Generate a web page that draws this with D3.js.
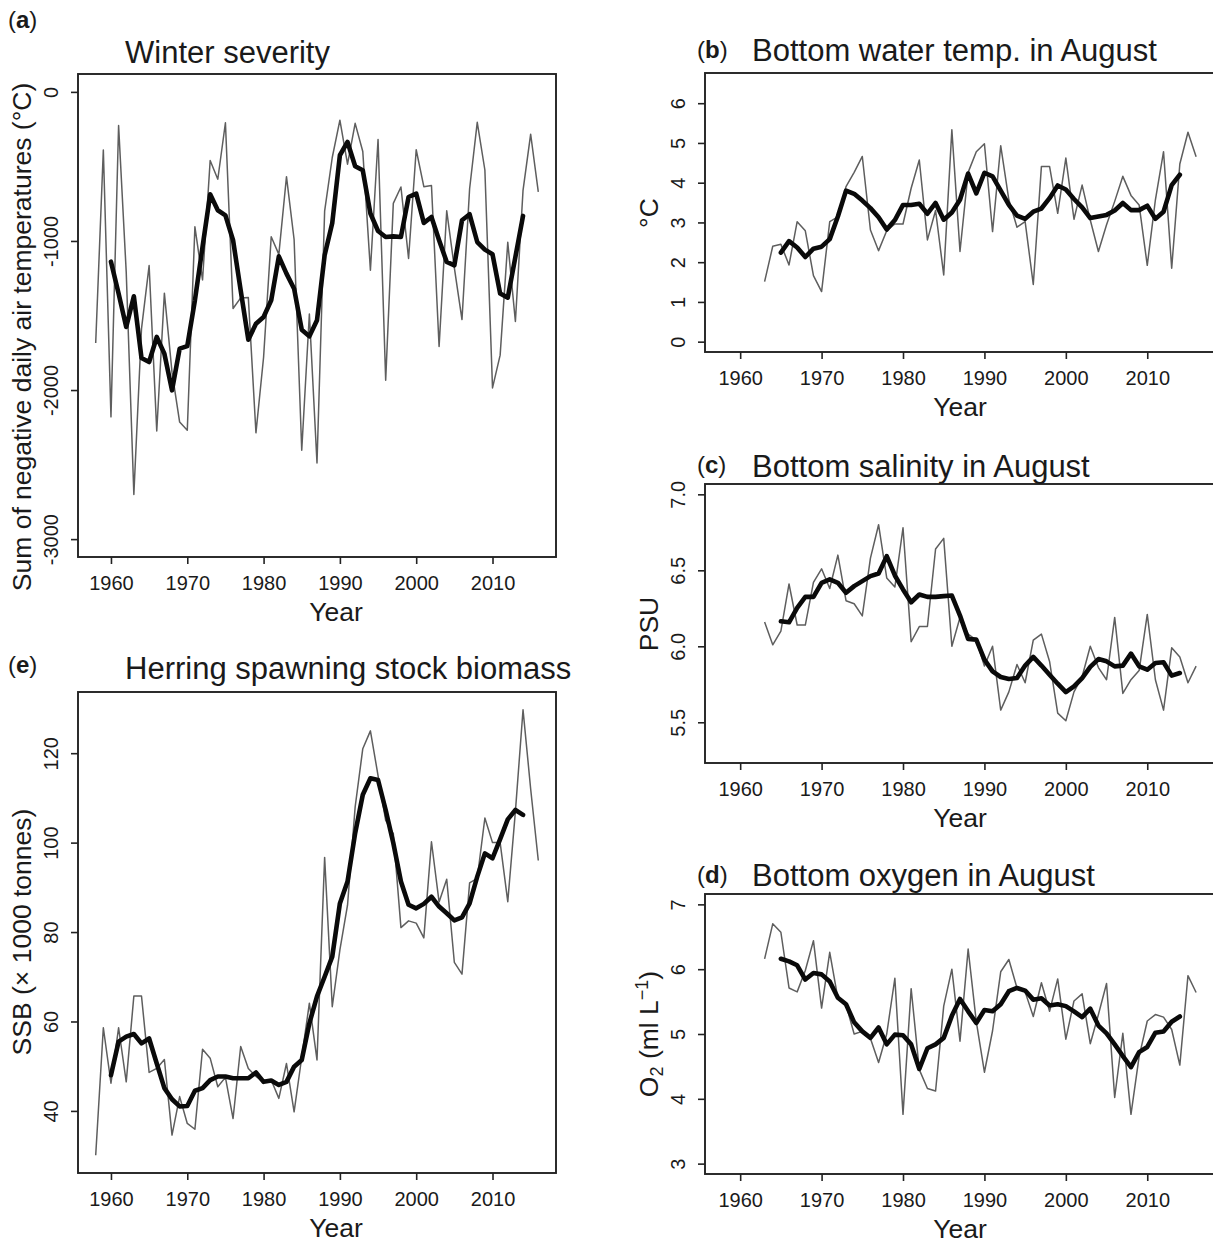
<!DOCTYPE html>
<html>
<head>
<meta charset="utf-8">
<script src="https://cdn.jsdelivr.net/npm/d3@7"></script>
<style>
  body { margin: 0; background: #fff; }
  text { font-family: "Liberation Sans", Arial, Helvetica, sans-serif; }
</style>
</head>
<body>
<script>
// years (x categories)
var yearsLong = d3.range(1958, 2017);      // air temperature, SSB
var yearsShort = d3.range(1963, 2017);     // hydrography
var meanYearsLong = d3.range(1960, 2015);  // 5-yr running means
var meanYearsShort = d3.range(1965, 2015);
var xTicks = [1960, 1970, 1980, 1990, 2000, 2010];

// (a) winter severity, sum of negative daily air temps
var winterRaw = [-1685, -390, -2180, -225, -1209, -2700, -1590, -1165, -2275, -1350,
  -1880, -2215, -2270, -905, -1261, -460, -586, -207, -1453, -1382,
  -1380, -2287, -1780, -972, -1090, -569, -990, -2404, -1490, -2490,
  -800, -440, -190, -485, -211, -400, -1196, -319, -1934, -748,
  -638, -1117, -388, -636, -628, -1708, -798, -1180, -1527, -650,
  -204, -524, -1986, -1766, -1009, -1540, -660, -284, -671];
var winterMean = [-1139, -1353, -1577, -1371, -1785, -1812, -1644, -1756, -2002, -1722,
  -1705, -1398, -1040, -687, -794, -828, -995, -1331, -1662, -1555,
  -1510, -1398, -1103, -1219, -1320, -1595, -1640, -1532, -1096, -879,
  -425, -336, -499, -526, -816, -933, -973, -969, -973, -705,
  -682, -879, -839, -995, -1141, -1163, -861, -821, -1007, -1058,
  -1089, -1353, -1380, -1107, -832];
var winterTicks = [0, -1000, -2000, -3000];

// (b) bottom water temperature in August
var tempRaw = [1.51, 2.40, 2.45, 1.93, 3.02, 2.79, 1.66, 1.26, 3.02, 3.14,
  3.90, 4.26, 4.66, 2.81, 2.29, 2.79, 2.96, 2.96, 3.86, 4.57,
  2.56, 3.30, 1.68, 5.33, 2.27, 4.26, 4.78, 4.98, 2.77, 4.93,
  3.57, 2.88, 3.02, 1.44, 4.41, 4.41, 3.23, 4.62, 3.08, 3.94,
  3.06, 2.27, 2.94, 3.53, 4.16, 3.68, 3.44, 1.92, 3.57, 4.78,
  1.85, 4.47, 5.27, 4.65];
var tempMean = [2.24, 2.53, 2.37, 2.13, 2.34, 2.39, 2.58, 3.15, 3.80, 3.72,
  3.55, 3.36, 3.13, 2.82, 3.06, 3.44, 3.44, 3.47, 3.22, 3.49,
  3.07, 3.25, 3.57, 4.23, 3.73, 4.25, 4.16, 3.80, 3.44, 3.17,
  3.09, 3.27, 3.35, 3.61, 3.93, 3.83, 3.59, 3.38, 3.11, 3.15,
  3.19, 3.30, 3.49, 3.31, 3.31, 3.42, 3.09, 3.27, 3.94, 4.20];
var tempTicks = [0, 1, 2, 3, 4, 5, 6];

// (c) bottom salinity in August
var salRaw = [6.16, 6.01, 6.10, 6.41, 6.14, 6.14, 6.42, 6.51, 6.38, 6.60,
  6.30, 6.28, 6.20, 6.58, 6.80, 6.45, 6.39, 6.78, 6.03, 6.13,
  6.13, 6.64, 6.71, 6.00, 6.19, 6.08, 6.04, 5.87, 6.00, 5.58,
  5.70, 5.88, 5.76, 6.04, 6.08, 5.90, 5.56, 5.51, 5.70, 5.80,
  6.00, 5.86, 5.78, 6.19, 5.69, 5.78, 5.84, 6.21, 5.78, 5.58,
  5.99, 5.93, 5.76, 5.87];
var salMean = [6.165, 6.158, 6.253, 6.325, 6.325, 6.418, 6.440, 6.418, 6.352, 6.396,
  6.429, 6.462, 6.479, 6.593, 6.466, 6.374, 6.290, 6.341, 6.325, 6.325,
  6.330, 6.334, 6.202, 6.048, 6.044, 5.912, 5.835, 5.798, 5.785, 5.791,
  5.873, 5.930, 5.873, 5.813, 5.754, 5.699, 5.736, 5.791, 5.864, 5.916,
  5.901, 5.868, 5.873, 5.952, 5.868, 5.846, 5.890, 5.895, 5.807, 5.824];
var salTicks = [5.5, 6.0, 6.5, 7.0];

// (d) bottom oxygen in August
var oxyRaw = [6.16, 6.70, 6.57, 5.71, 5.65, 5.98, 6.44, 5.40, 6.26, 5.55,
  5.45, 5.00, 5.04, 4.93, 4.56, 5.00, 5.86, 3.76, 5.70, 4.45,
  4.16, 4.12, 5.43, 6.00, 4.89, 6.31, 5.19, 4.41, 5.05, 5.96,
  6.15, 5.71, 5.65, 5.27, 5.79, 5.35, 5.85, 4.92, 5.51, 5.62,
  4.85, 5.30, 5.78, 4.02, 5.01, 3.76, 4.65, 5.20, 5.30, 5.26,
  5.07, 4.52, 5.90, 5.64];
var oxyMean = [6.16, 6.12, 6.06, 5.84, 5.94, 5.92, 5.81, 5.56, 5.46, 5.18,
  5.04, 4.94, 5.10, 4.84, 4.99, 4.98, 4.84, 4.46, 4.78, 4.84,
  4.94, 5.28, 5.54, 5.35, 5.17, 5.37, 5.35, 5.46, 5.66, 5.71,
  5.67, 5.53, 5.55, 5.44, 5.46, 5.43, 5.35, 5.26, 5.39, 5.13,
  5.01, 4.84, 4.66, 4.49, 4.72, 4.80, 5.02, 5.04, 5.19, 5.27];
var oxyTicks = [3, 4, 5, 6, 7];

// (e) herring spawning stock biomass
var ssbRaw = [30.1, 58.6, 46.2, 58.6, 46.5, 65.7, 65.7, 48.6, 49.5, 51.5,
  34.6, 43.2, 37.2, 35.9, 53.8, 51.8, 45.4, 47.5, 38.3, 54.4,
  49.5, 47.7, 46.5, 46.9, 42.8, 50.6, 39.8, 52.0, 64.1, 51.4,
  96.7, 63.3, 76.0, 86.0, 108.0, 121.0, 125.0, 115.0, 105.0, 102.0,
  81.0, 82.5, 82.0, 78.7, 100.2, 86.7, 91.8, 73.2, 70.6, 91.0,
  92.0, 105.5, 100.0, 100.0, 86.8, 107.0, 129.7, 112.0, 96.0];
var ssbMean = [48.0, 55.5, 56.6, 57.2, 55.1, 56.2, 50.6, 45.1, 42.6, 41.0,
  41.1, 44.5, 45.1, 46.9, 47.7, 47.7, 47.3, 47.3, 47.3, 48.6,
  46.5, 46.8, 45.8, 46.5, 49.9, 51.4, 59.6, 65.6, 70.0, 74.5,
  86.4, 91.3, 102.1, 110.7, 114.4, 114.0, 107.3, 99.9, 91.3, 86.1,
  85.3, 86.3, 87.9, 85.7, 84.2, 82.6, 83.3, 86.4, 92.4, 97.6,
  96.5, 100.8, 105.2, 107.3, 106.2];
var ssbTicks = [40, 60, 80, 100, 120];

var w = 1213;
var h = 1244;
var tickSize = 20;   // tick label font
var labSize = 26.5;  // axis title font
var mainSize = 31;   // panel title font

var svg = d3.select('body')
    .append('svg')
    .attr('width', w)
    .attr('height', h);

// R-style 4% axis padding
function pad(lo, hi){
    var r = hi - lo;
    return [lo - 0.04 * r, hi + 0.04 * r];
}
var xDomain = pad(1958, 2016);
//R prints a plain hyphen for negatives
var fmtInt = function(d){ return String(d); };

function drawPanel(p){
    var x = d3.scaleLinear().domain(xDomain).range([p.left, p.right]);
    var y = d3.scaleLinear().domain(p.yDomain).range([p.bottom, p.top]);
    var g = svg.append('g');
    var line = d3.line()
        .x(function(d){ return x(d[0]); })
        .y(function(d){ return y(d[1]); });

    //annual values, thin grey
    g.append('path')
        .datum(d3.zip(p.years, p.raw))
        .attr('d', line)
        .attr('fill', 'none')
        .attr('stroke', '#5e5e5e')
        .attr('stroke-width', 1.5)
        .attr('stroke-linejoin', 'round');
    //running mean, thick black
    g.append('path')
        .datum(d3.zip(p.meanYears, p.mean))
        .attr('d', line)
        .attr('fill', 'none')
        .attr('stroke', '#0a0a0a')
        .attr('stroke-width', 4.6)
        .attr('stroke-linejoin', 'round')
        .attr('stroke-linecap', 'round');

    //box
    g.append('rect')
        .attr('x', p.left)
        .attr('y', p.top)
        .attr('width', p.right - p.left)
        .attr('height', p.bottom - p.top)
        .attr('fill', 'none')
        .attr('stroke', '#222')
        .attr('stroke-width', 1.9);

    //x axis
    var gx = g.append('g')
        .attr('transform', 'translate(0,' + p.bottom + ')')
        .call(d3.axisBottom(x).tickValues(xTicks).tickSize(7).tickFormat(fmtInt))
        .attr('font-size', null)
        .attr('font-family', null);
    gx.select('.domain').remove();
    gx.selectAll('.tick line').attr('stroke', '#222').attr('stroke-width', 1.6);
    gx.selectAll('.tick text')
        .attr('y', 26)
        .attr('dy', '0.35em')
        .attr('font-size', tickSize)
        .attr('fill', '#1a1a1a');

    //y axis, labels parallel to axis
    var gy = g.append('g')
        .attr('transform', 'translate(' + p.left + ',0)')
        .call(d3.axisLeft(y).tickValues(p.yTicks).tickSize(7).tickFormat(p.fmt))
        .attr('font-size', null)
        .attr('font-family', null);
    gy.select('.domain').remove();
    gy.selectAll('.tick line').attr('stroke', '#222').attr('stroke-width', 1.6);
    gy.selectAll('.tick text')
        .attr('x', 0)
        .attr('dy', '0.35em')
        .attr('text-anchor', 'middle')
        .attr('transform', 'translate(-27,0) rotate(-90)')
        .attr('font-size', tickSize)
        .attr('fill', '#1a1a1a');

    //axis titles
    g.append('text')
        .attr('x', p.xlabX)
        .attr('y', p.bottom + 55)
        .attr('dy', '0.35em')
        .attr('text-anchor', 'middle')
        .attr('font-size', labSize)
        .attr('fill', '#1a1a1a')
        .text('Year');
    var yl = g.append('text')
        .attr('transform', 'translate(' + (p.left - 56) + ',' + p.ylabY + ') rotate(-90)')
        .attr('dy', '0.35em')
        .attr('text-anchor', 'middle')
        .attr('font-size', labSize)
        .attr('fill', '#1a1a1a');
    p.ylab(yl);

    //title and panel letter
    svg.append('text')
        .attr('x', p.titleX)
        .attr('y', p.titleY)
        .attr('dy', '0.35em')
        .attr('font-size', mainSize)
        .attr('fill', '#1a1a1a')
        .text(p.title);
    var tag = svg.append('text')
        .attr('x', p.tagX)
        .attr('y', p.tagY)
        .attr('dy', '0.35em')
        .attr('font-size', 24)
        .attr('fill', '#1a1a1a');
    tag.append('tspan').text('(');
    tag.append('tspan').attr('font-weight', 'bold').text(p.tag);
    tag.append('tspan').text(')');
}

function plain(s){
    return function(t){ t.text(s); };
}

drawPanel({
    tag: 'a', tagX: 8, tagY: 20,
    title: 'Winter severity', titleX: 125, titleY: 52,
    left: 78, right: 556, top: 74, bottom: 557,
    xlabX: 336, ylabY: 337,
    years: yearsLong, raw: winterRaw, meanYears: meanYearsLong, mean: winterMean,
    yDomain: pad(-3000, 0), yTicks: winterTicks, fmt: fmtInt,
    ylab: plain('Sum of negative daily air temperatures (\u00B0C)')
});

drawPanel({
    tag: 'e', tagX: 8, tagY: 665,
    title: 'Herring spawning stock biomass', titleX: 125, titleY: 668,
    left: 78, right: 556, top: 692, bottom: 1173,
    xlabX: 336, ylabY: 932,
    years: yearsLong, raw: ssbRaw, meanYears: meanYearsLong, mean: ssbMean,
    yDomain: pad(d3.min(ssbRaw), d3.max(ssbRaw)), yTicks: ssbTicks, fmt: fmtInt,
    ylab: plain('SSB (\u00D7 1000 tonnes)')
});

drawPanel({
    tag: 'b', tagX: 697, tagY: 50,
    title: 'Bottom water temp. in August', titleX: 752, titleY: 50,
    left: 705, right: 1215, top: 73, bottom: 352,
    xlabX: 960, ylabY: 213,
    years: yearsShort, raw: tempRaw, meanYears: meanYearsShort, mean: tempMean,
    yDomain: pad(0, 6.5), yTicks: tempTicks, fmt: fmtInt,
    ylab: plain('\u00B0C')
});

drawPanel({
    tag: 'c', tagX: 697, tagY: 465,
    title: 'Bottom salinity in August', titleX: 752, titleY: 466,
    left: 705, right: 1215, top: 484, bottom: 763,
    xlabX: 960, ylabY: 624,
    years: yearsShort, raw: salRaw, meanYears: meanYearsShort, mean: salMean,
    yDomain: pad(5.3, 7.0), yTicks: salTicks, fmt: d3.format('.1f'),
    ylab: plain('PSU')
});

drawPanel({
    tag: 'd', tagX: 697, tagY: 875,
    title: 'Bottom oxygen in August', titleX: 752, titleY: 875,
    left: 705, right: 1215, top: 894, bottom: 1174,
    xlabX: 960, ylabY: 1034,
    years: yearsShort, raw: oxyRaw, meanYears: meanYearsShort, mean: oxyMean,
    yDomain: pad(3, 7), yTicks: oxyTicks, fmt: fmtInt,
    ylab: function(t){
        t.append('tspan').text('O');
        t.append('tspan').attr('dy', 5).attr('font-size', 18).text('2');
        t.append('tspan').attr('dy', -5).text(' (ml L');
        t.append('tspan').attr('dy', -10).attr('font-size', 18).text('\u22121');
        t.append('tspan').attr('dy', 10).text(')');
    }
});
</script>
</body>
</html>
